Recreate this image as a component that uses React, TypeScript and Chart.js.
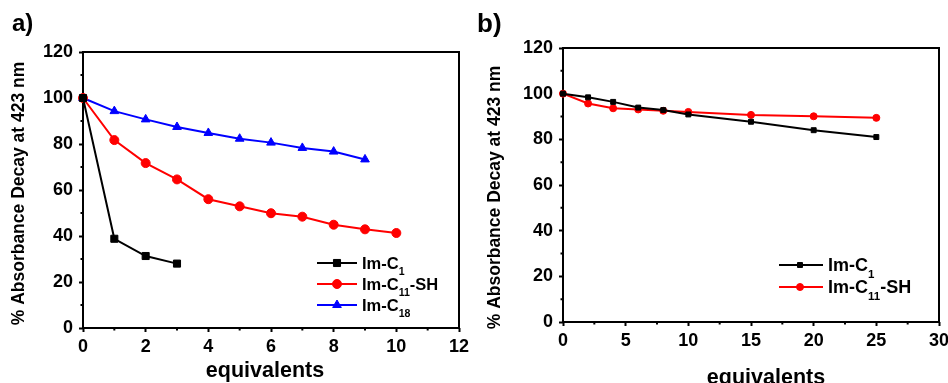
import React, { useEffect, useRef } from 'react';
import { Chart, registerables } from 'chart.js';
import { drawPoint } from 'chart.js/helpers';

Chart.register(...registerables);

// ---------- data ----------
const aC1X = [0, 1, 2, 3];
const aC1Y = [100, 38.8, 31.3, 28.0];
const aC11X = [0, 1, 2, 3, 4, 5, 6, 7, 8, 9, 10];
const aC11Y = [100, 81.7, 71.7, 64.6, 56.0, 52.9, 49.9, 48.4, 44.9, 42.9, 41.3];
const aC18X = [0, 1, 2, 3, 4, 5, 6, 7, 8, 9];
const aC18Y = [100, 94.3, 90.7, 87.4, 84.8, 82.3, 80.6, 78.3, 76.7, 73.3];

const bX = [0, 2, 4, 6, 8, 10, 15, 20, 25];
const bC1Y = [100, 98.4, 96.4, 93.9, 92.8, 90.9, 87.7, 84.0, 81.0];
const bC11Y = [100, 95.7, 93.6, 93.1, 92.5, 92.0, 90.7, 90.1, 89.4];

const seriesLabels = ['Im-C₁', 'Im-C₁₁-SH', 'Im-C₁₈'];
const yTitle = '% Absorbance Decay at 423 nm';
const xTitle = 'equivalents';
const yRange = [0, 120];
const yStep = 20;
const aXRange = [0, 12];
const aXStep = 2;
const bXRange = [0, 30];
const bXStep = 5;
const panelLabels = ['a)', 'b)'];

const FONT = '"Liberation Sans", Arial, sans-serif';
const W = 474;
const H = 383;

const toPts = (xs: number[], ys: number[]) => xs.map((x, i) => ({ x, y: ys[i] }));

const SUBS = '₀₁₂₃₄₅₆₇₈₉';

function drawLabel(ctx: CanvasRenderingContext2D, text: string, x: number, baseline: number, size: number) {
  let cx = x;
  const chars = Array.from(text);
  let i = 0;
  while (i < chars.length) {
    const isSub = SUBS.includes(chars[i]);
    let run = '';
    while (i < chars.length && SUBS.includes(chars[i]) === isSub) {
      run += isSub ? String(SUBS.indexOf(chars[i])) : chars[i];
      i++;
    }
    if (isSub) {
      ctx.font = `bold ${size * 0.64}px ${FONT}`;
      ctx.fillText(run, cx, baseline + size * 0.38);
    } else {
      ctx.font = `bold ${size}px ${FONT}`;
      ctx.fillText(run, cx, baseline);
    }
    cx += ctx.measureText(run).width;
  }
}

interface Spec {
  xRange: number[];
  xStep: number;
  yWidth: number;
  xHeight: number;
  padRight: number;
  padTop: number;
  xTitleDx: number;
  xTitleDy: number;
  yTitleX: number;
  yTitleDy: number;
  legend: { x0: number; x1: number; mx: number; tx: number; rows: number[]; size: number };
  datasets: any[];
}

function decor(spec: Spec) {
  return {
    id: 'decor',
    beforeDatasetsDraw(chart: any) {
      const { ctx, chartArea: a, scales } = chart;
      ctx.save();
      ctx.strokeStyle = '#000';
      ctx.lineWidth = 2;
      ctx.strokeRect(a.left, a.top, a.right - a.left, a.bottom - a.top);
      // minor ticks
      ctx.beginPath();
      for (let v = spec.xRange[0] + spec.xStep / 2; v < spec.xRange[1]; v += spec.xStep) {
        const px = scales.x.getPixelForValue(v);
        ctx.moveTo(px, a.bottom);
        ctx.lineTo(px, a.bottom + 2.5);
      }
      for (let v = yRange[0] + yStep / 2; v < yRange[1]; v += yStep) {
        const py = scales.y.getPixelForValue(v);
        ctx.moveTo(a.left, py);
        ctx.lineTo(a.left - 2.5, py);
      }
      ctx.stroke();
      // titles
      ctx.fillStyle = '#000';
      ctx.font = `bold 21.5px ${FONT}`;
      ctx.textAlign = 'center';
      ctx.textBaseline = 'alphabetic';
      ctx.fillText(xTitle, (a.left + a.right) / 2 + spec.xTitleDx, a.bottom + spec.xTitleDy);
      ctx.translate(spec.yTitleX, (a.top + a.bottom) / 2 + spec.yTitleDy);
      ctx.rotate(-Math.PI / 2);
      ctx.font = `bold 17.5px ${FONT}`;
      ctx.textBaseline = 'middle';
      ctx.fillText(yTitle, 0, 0);
      ctx.restore();
    },
    afterDraw(chart: any) {
      const { ctx } = chart;
      const L = spec.legend;
      ctx.save();
      chart.data.datasets.forEach((ds: any, i: number) => {
        const y = L.rows[i];
        ctx.strokeStyle = ds.borderColor;
        ctx.lineWidth = ds.borderWidth;
        ctx.beginPath();
        ctx.moveTo(L.x0, y);
        ctx.lineTo(L.x1, y);
        ctx.stroke();
        ctx.fillStyle = ds.borderColor;
        ctx.lineWidth = 1;
        drawPoint(ctx, { pointStyle: ds.pointStyle, radius: ds.pointRadius, rotation: 0, borderWidth: 1 }, L.mx, y);
        ctx.fillStyle = '#000';
        ctx.textAlign = 'left';
        ctx.textBaseline = 'alphabetic';
        drawLabel(ctx, ds.label, L.tx, y + L.size * 0.36, L.size);
      });
      ctx.restore();
    },
  };
}

function buildConfig(spec: Spec): any {
  const tickFont = { family: FONT, size: 18, weight: 'bold' as const };
  const grid = { display: true, drawOnChartArea: false, drawTicks: true, tickLength: 4, tickWidth: 2, tickColor: '#000' };
  return {
    type: 'line',
    data: { datasets: spec.datasets },
    options: {
      animation: false,
      responsive: false,
      events: [],
      layout: { padding: { left: 0, right: spec.padRight, top: spec.padTop, bottom: 0 } },
      plugins: { legend: { display: false }, tooltip: { enabled: false } },
      scales: {
        x: {
          type: 'linear',
          min: spec.xRange[0],
          max: spec.xRange[1],
          ticks: { stepSize: spec.xStep, font: tickFont, color: '#000', padding: 4, maxRotation: 0, autoSkip: false },
          grid,
          border: { display: false },
          afterFit: (s: any) => {
            s.height = spec.xHeight;
            s.paddingLeft = 0;
            s.paddingRight = 0;
          },
        },
        y: {
          type: 'linear',
          min: yRange[0],
          max: yRange[1],
          ticks: { stepSize: yStep, font: tickFont, color: '#000', padding: 6 },
          grid,
          border: { display: false },
          afterFit: (s: any) => {
            s.width = spec.yWidth;
            s.paddingTop = 0;
            s.paddingBottom = 0;
          },
        },
      },
    },
    plugins: [decor(spec)],
  };
}

function ds(label: string, data: any[], color: string, style: string, r: number, bw: number) {
  return {
    label,
    data,
    borderColor: color,
    backgroundColor: color,
    borderWidth: bw,
    pointStyle: style,
    pointRadius: r,
    pointBackgroundColor: color,
    pointBorderColor: color,
    pointBorderWidth: 1,
    tension: 0,
    clip: false,
  };
}

const specA: Spec = {
  xRange: aXRange,
  xStep: aXStep,
  yWidth: 83,
  xHeight: H - 328,
  padRight: W - 459,
  padTop: 52,
  xTitleDx: -6,
  xTitleDy: 49,
  yTitleX: 19.5,
  yTitleDy: 3.5,
  legend: { x0: 317, x1: 357, mx: 337, tx: 362, rows: [263, 284, 305], size: 16.5 },
  datasets: [
    ds(seriesLabels[0], toPts(aC1X, aC1Y), '#000000', 'rect', 5, 2),
    ds(seriesLabels[1], toPts(aC11X, aC11Y), '#ff0000', 'circle', 4.5, 2),
    ds(seriesLabels[2], toPts(aC18X, aC18Y), '#0000ff', 'triangle', 5, 2),
  ],
};

const specB: Spec = {
  xRange: bXRange,
  xStep: bXStep,
  yWidth: 89,
  xHeight: H - 322,
  padRight: W - 465,
  padTop: 48,
  xTitleDx: 15,
  xTitleDy: 62,
  yTitleX: 20.7,
  yTitleDy: 12.5,
  legend: { x0: 305, x1: 349, mx: 326, tx: 354, rows: [265, 287], size: 18 },
  datasets: [
    ds(seriesLabels[0], toPts(bX, bC1Y), '#000000', 'rect', 3.5, 2),
    ds(seriesLabels[1], toPts(bX, bC11Y), '#ff0000', 'circle', 3.5, 2),
  ],
};

function Panel({ spec, left }: { spec: Spec; left: number }) {
  const ref = useRef<HTMLCanvasElement>(null);
  useEffect(() => {
    const chart = new Chart(ref.current as HTMLCanvasElement, buildConfig(spec));
    return () => chart.destroy();
  }, []);
  return (
    <canvas
      ref={ref}
      width={W}
      height={H}
      style={{ position: 'absolute', left, top: 0, width: W, height: H }}
    />
  );
}

export default function App() {
  const labelStyle = (left: number, top: number, size: number): React.CSSProperties => ({
    position: 'absolute',
    left,
    top,
    fontFamily: FONT,
    fontWeight: 'bold',
    fontSize: size,
    lineHeight: `${size}px`,
    color: '#000',
    zIndex: 2,
  });
  return (
    <div style={{ position: 'fixed', left: 0, top: 0, width: 948, height: 383, background: '#fff', overflow: 'hidden' }}>
      <Panel spec={specA} left={0} />
      <Panel spec={specB} left={W} />
      <div style={labelStyle(12, 10.7, 24)}>{panelLabels[0]}</div>
      <div style={labelStyle(477, 9.8, 26)}>{panelLabels[1]}</div>
    </div>
  );
}
